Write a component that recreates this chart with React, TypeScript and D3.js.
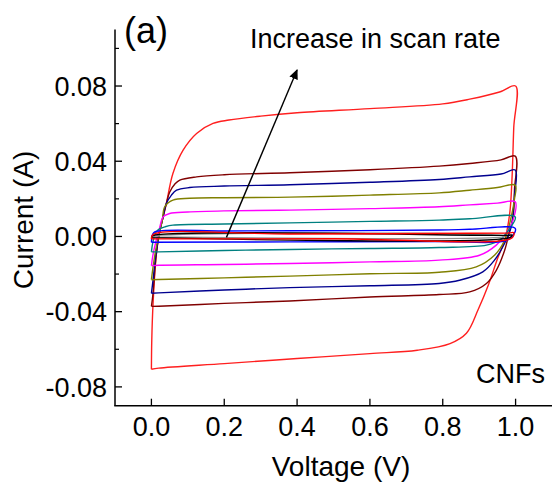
import React from 'react';
import * as d3 from 'd3';

// scan loops: [voltage, current]
const redOuter = [
  [0, -0.0706], [0.001, -0.055], [0.0045, -0.0357], [0.0137, -0.009], [0.0228, 0.0034],
  [0.03, 0.0087], [0.041, 0.0175], [0.059, 0.0335], [0.087, 0.0459], [0.124, 0.0548],
  [0.169, 0.0601], [0.213, 0.0619], [0.3, 0.064], [0.4, 0.0658], [0.6, 0.068],
  [0.8, 0.0705], [0.874, 0.073], [0.956, 0.0768], [1.0, 0.080],
  [0.995, 0.058], [0.99, 0.030], [0.984, 0.0124], [0.97, -0.002], [0.951, -0.0115],
  [0.925, -0.026], [0.897, -0.039], [0.865, -0.0515], [0.82, -0.057], [0.73, -0.0605],
  [0.6, -0.0623], [0.4, -0.0649], [0.2, -0.0676], [0.02, -0.0700], [0, -0.0706],
];
const maroonLoop = [
  [0, -0.0372], [0.004, -0.031], [0.012, -0.012], [0.022, 0.002], [0.03, 0.0087],
  [0.041, 0.0175], [0.05, 0.0235], [0.065, 0.028], [0.078, 0.030], [0.124, 0.0317],
  [0.2, 0.0328], [0.38, 0.0339], [0.6, 0.0355], [0.79, 0.0374], [0.874, 0.0388],
  [0.96, 0.0407], [0.999, 0.0427],
  [0.997, 0.025], [0.993, 0.010], [0.984, 0.0034], [0.97, -0.0073], [0.947, -0.018],
  [0.92, -0.025], [0.874, -0.0295], [0.79, -0.0309], [0.6, -0.0322], [0.38, -0.0343],
  [0.2, -0.0356], [0.02, -0.0371], [0, -0.0372],
];
const navyLoop = [
  [0, -0.0302], [0.004, -0.024], [0.012, -0.010], [0.022, 0.002], [0.03, 0.0087],
  [0.041, 0.0175], [0.055, 0.022], [0.069, 0.0246], [0.105, 0.026], [0.2, 0.0268],
  [0.38, 0.0275], [0.6, 0.0288], [0.79, 0.0303], [0.874, 0.0317], [0.96, 0.0332],
  [0.999, 0.0353],
  [0.997, 0.022], [0.993, 0.012], [0.988, 0.005], [0.965, -0.0055], [0.942, -0.0126],
  [0.91, -0.0188], [0.846, -0.0233], [0.79, -0.025], [0.6, -0.0262], [0.38, -0.0272],
  [0.2, -0.0285], [0.02, -0.030], [0, -0.0302],
];
const oliveLoop = [
  [0, -0.023], [0.004, -0.017], [0.012, -0.007], [0.022, 0.002], [0.03, 0.0087],
  [0.0365, 0.0158], [0.059, 0.0193], [0.105, 0.0203], [0.2, 0.0206], [0.38, 0.0209],
  [0.6, 0.022], [0.79, 0.0232], [0.874, 0.0246], [0.95, 0.026], [0.999, 0.0273],
  [0.997, 0.020], [0.988, 0.0104], [0.97, -0.002], [0.942, -0.010], [0.892, -0.0162],
  [0.79, -0.019], [0.6, -0.0198], [0.38, -0.0211], [0.2, -0.022], [0.02, -0.0229],
  [0, -0.023],
];
const magentaLoop = [
  [0, -0.0155], [0.004, -0.010], [0.012, -0.003], [0.022, 0.004], [0.032, 0.0104],
  [0.05, 0.0122], [0.1, 0.013], [0.2, 0.0136], [0.38, 0.014], [0.6, 0.0148],
  [0.79, 0.0158], [0.874, 0.0168], [0.95, 0.0177], [0.999, 0.0184],
  [0.993, 0.0087], [0.974, 0.0016], [0.947, -0.0046], [0.901, -0.010], [0.79, -0.0126],
  [0.6, -0.0135], [0.38, -0.0144], [0.2, -0.0149], [0.02, -0.0153], [0, -0.0155],
];
const tealLoop = [
  [0, -0.0082], [0.004, -0.003], [0.012, 0.002], [0.022, 0.004], [0.037, 0.0051],
  [0.059, 0.006], [0.2, 0.0066], [0.38, 0.0072], [0.6, 0.008], [0.79, 0.0087],
  [0.874, 0.0094], [0.999, 0.0104],
  [0.984, 0.0043], [0.956, -0.002], [0.92, -0.0046], [0.79, -0.0059], [0.6, -0.0064],
  [0.38, -0.0069], [0.2, -0.0075], [0.02, -0.0082], [0, -0.0082],
];
const blueLoop = [
  [0, -0.0031], [0.003, 0.001], [0.01, 0.0025], [0.2, 0.0029], [0.38, 0.003],
  [0.79, 0.0034], [0.874, 0.0038], [0.999, 0.0043],
  [0.99, 0.0], [0.97, -0.0025], [0.79, -0.0027], [0.38, -0.0029], [0, -0.0031],
];
const redSmallLoop = [
  [0, -0.0013], [0.005, 0.0011], [0.38, 0.0013], [0.98, 0.0018], [0.995, 0.002],
  [0.99, -0.0008], [0.5, -0.0012], [0, -0.0013],
];
const grayLoop = [
  [0, -0.0003], [0.004, 0.0002], [0.97, 0.0003], [0.965, -0.0002], [0, -0.0003],
];
const blackLoop = [
  [0, -0.0006], [0.004, 0.0004], [0.98, 0.0006], [0.99, 0.0008],
  [0.985, -0.0005], [0, -0.0006],
];

const loops = [
  { name: 'red', data: redOuter, color: '#ff1f1f' },
  { name: 'maroon', data: maroonLoop, color: '#800000' },
  { name: 'navy', data: navyLoop, color: '#00008f' },
  { name: 'olive', data: oliveLoop, color: '#808000' },
  { name: 'magenta', data: magentaLoop, color: '#ff00ff' },
  { name: 'teal', data: tealLoop, color: '#008080' },
  { name: 'blue', data: blueLoop, color: '#0000ff' },
  { name: 'gray', data: grayLoop, color: '#909090' },
  { name: 'black', data: blackLoop, color: '#000000' },
  { name: 'redSmall', data: redSmallLoop, color: '#ff0000' },
];

const xTicks = [0, 0.2, 0.4, 0.6, 0.8, 1.0];
const xTickLabels = ['0.0', '0.2', '0.4', '0.6', '0.8', '1.0'];
const yTicks = [-0.08, -0.04, 0, 0.04, 0.08];
const yTickLabels = ['-0.08', '-0.04', '0.00', '0.04', '0.08'];
const yMinorTicks = [-0.06, -0.02, 0.02, 0.06, 0.1];

// arrow "increase in scan rate", in data units
const arrowFrom = [0.206, -0.0005];
const arrowTo = [0.4, 0.0885];

const W = 552, H = 489;
const FONT = '"Liberation Sans", Arial, Helvetica, sans-serif';

export default function App() {
  const x = d3.scaleLinear().domain([-0.1, 1.1]).range([115, 552]);
  const y = d3.scaleLinear().domain([-0.09, 0.11]).range([405.7, 29.6]);

  const line = d3.line()
    .x(d => x(d[0]))
    .y(d => y(d[1]))
    .curve(d3.curveCatmullRom.alpha(0.5));

  const x0 = x(-0.1), yb = y(-0.09);

  return (
    <svg width={W} height={H} style={{ position: 'absolute', left: 0, top: 0, background: '#fff' }}
      fontFamily={FONT}>
      <defs>
        <marker id="ah" viewBox="0 0 10 10" refX="9" refY="5" markerWidth="10" markerHeight="10"
          markerUnits="userSpaceOnUse" orient="auto">
          <path d="M0,0.5 L10,5 L0,9.5 Z" fill="#000" />
        </marker>
      </defs>

      {/* curves */}
      {loops.map(l => (
        <path key={l.name} d={line(l.data)} fill="none" stroke={l.color} strokeWidth={1.4}
          strokeLinejoin="round" />
      ))}

      {/* arrow */}
      <line x1={x(arrowFrom[0])} y1={y(arrowFrom[1])} x2={x(arrowTo[0])} y2={y(arrowTo[1])}
        stroke="#000" strokeWidth={1.4} markerEnd="url(#ah)" />

      {/* axes */}
      <line x1={x0} x2={x0} y1={y(0.11)} y2={yb} stroke="#000" strokeWidth={1.5} />
      <line x1={x0 - 0.75} x2={x(1.1)} y1={yb} y2={yb} stroke="#000" strokeWidth={1.5} />

      {yTicks.map((t, i) => (
        <g key={t}>
          <line x1={x0} x2={x0 + 7} y1={y(t)} y2={y(t)} stroke="#000" strokeWidth={1.3} />
          <text x={107} y={y(t)} dy="0.36em" textAnchor="end" fontSize={27}>{yTickLabels[i]}</text>
        </g>
      ))}
      {yMinorTicks.map(t => (
        <line key={t} x1={x0} x2={x0 + 4} y1={y(t)} y2={y(t)} stroke="#000" strokeWidth={1.2} />
      ))}
      {xTicks.map((t, i) => (
        <g key={t}>
          <line x1={x(t)} x2={x(t)} y1={yb} y2={yb - 7} stroke="#000" strokeWidth={1.3} />
          <text x={x(t)} y={436} textAnchor="middle" fontSize={27}>{xTickLabels[i]}</text>
        </g>
      ))}

      {/* titles and labels */}
      <text x={341} y={476} textAnchor="middle" fontSize={28}>Voltage (V)</text>
      <text transform="translate(33,220) rotate(-90)" textAnchor="middle" fontSize={28}>Current (A)</text>
      <text x={124} y={43} fontSize={36}>(a)</text>
      <text x={250} y={48} fontSize={27}>Increase in scan rate</text>
      <text x={545} y={383} textAnchor="end" fontSize={27}>CNFs</text>
    </svg>
  );
}
